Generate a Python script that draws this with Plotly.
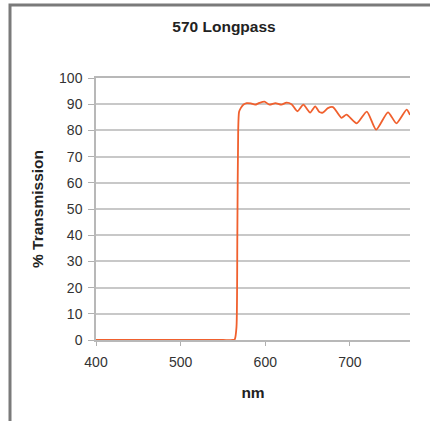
import plotly.graph_objects as go

wavelength_nm = [400, 450, 500, 550, 562, 564, 566, 567, 568, 569, 571, 574, 578, 583, 588,
                 593, 599, 605, 612, 619, 625, 631, 638, 645, 653, 659, 664, 668, 674, 680,
                 690, 696, 708, 720, 731, 745, 755, 767, 771]
transmission = [0, 0, 0, 0, 0, 0.3, 5, 40, 80, 87, 88.5, 89.8, 90.4, 90.3, 89.8,
                90.5, 91.0, 89.8, 90.4, 89.8, 90.6, 90.0, 87.3, 89.8, 86.8, 89.2, 87.0, 86.8, 88.5, 88.9,
                84.8, 86.0, 82.7, 87.2, 80.3, 86.9, 82.7, 87.9, 85.9]

x_ticks = [400, 500, 600, 700]
y_ticks = [0, 10, 20, 30, 40, 50, 60, 70, 80, 90, 100]

fig = go.Figure()
fig.add_trace(go.Scatter(
    x=wavelength_nm, y=transmission, mode="lines",
    line=dict(color="#F0602E", width=1.8, shape="spline", smoothing=0.6),
    hoverinfo="skip", showlegend=False,
))

font_family = "Liberation Sans, Arial, sans-serif"
# plot area target: x 96..410, y 78..340
fig.update_layout(
    width=430, height=421,
    margin=dict(l=96, r=20, t=78, b=81),
    paper_bgcolor="white", plot_bgcolor="white",
    title=dict(text="<b>570 Longpass</b>", x=224 / 430, xanchor="center",
               y=1 - 27 / 421, yanchor="middle",
               font=dict(family=font_family, size=15.5, color="#222222")),
    font=dict(family=font_family, size=14, color="#333333"),
    xaxis=dict(range=[400, 771], tickvals=x_ticks, ticks="outside", ticklen=4,
               tickcolor="#b0b0b0", showgrid=False, showline=True, linecolor="#b8b8b8",
               linewidth=1.5, mirror=True, zeroline=False, ticklabelstandoff=4,
               tickfont=dict(size=14, color="#333333"),
               title=dict(text="<b>nm</b>", font=dict(size=15.5, color="#222222"), standoff=19)),
    yaxis=dict(range=[0, 100], tickvals=y_ticks, ticks="outside", ticklen=6,
               tickcolor="#b0b0b0", showgrid=True, gridcolor="#c8c8c8", gridwidth=1.5,
               showline=True, linecolor="#b8b8b8", linewidth=1.5, zeroline=False,
               ticklabelstandoff=3,
               tickfont=dict(size=14, color="#333333"),
               title=dict(text="<b>% Transmission</b>", font=dict(size=15.5, color="#222222"),
                          standoff=12)),
    shapes=[
        dict(type="rect", xref="paper", yref="paper",
             x0=(10 - 96) / 314, x1=(460 - 96) / 314,
             y0=(340 - 460) / 262, y1=(340 - 5) / 262,
             line=dict(color="#7a7a7a", width=3), fillcolor="rgba(0,0,0,0)", layer="above"),
    ],
)

fig.write_html("out.html", config={"displayModeBar": False},
               post_script="document.body.style.margin='0';")
